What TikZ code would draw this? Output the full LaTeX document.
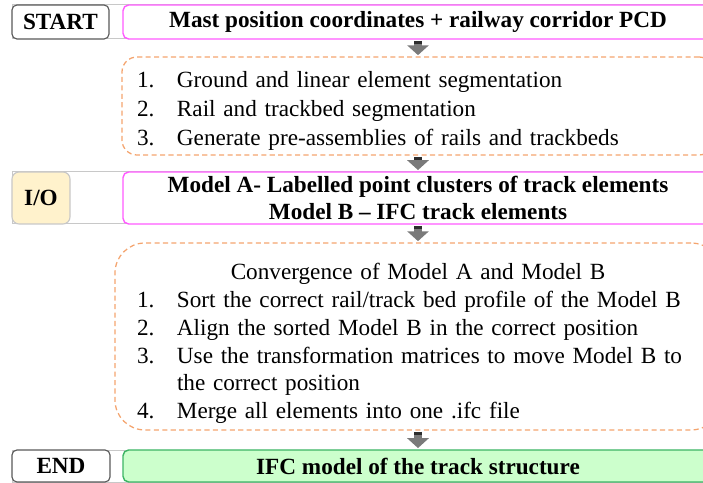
\documentclass[tikz,border=0pt]{standalone}
\usepackage{fontspec}
\setmainfont{Liberation Serif}
\usetikzlibrary{arrows.meta}
\definecolor{pinkline}{RGB}{255,90,255}
\definecolor{orangedash}{RGB}{244,164,110}
\definecolor{iofill}{RGB}{255,242,204}
\definecolor{endfill}{RGB}{204,255,204}
\definecolor{endline}{RGB}{60,180,100}
\definecolor{tagline}{RGB}{89,89,89}
\definecolor{rowline}{RGB}{200,200,200}
\definecolor{flowgray}{RGB}{122,122,122}
\definecolor{flowdark}{RGB}{45,45,45}
\newcommand{\stepitem}[2]{\makebox[1.0cm][l]{#1}#2}

\begin{document}
\begin{tikzpicture}[font=\fontsize{16.5}{20.3}\selectfont,
  rowstrip/.style={draw=rowline,line width=0.7pt,minimum width=17.525cm,inner sep=0pt},
  tagbox/.style={draw=tagline,line width=0.8pt,rounded corners=3.5pt,fill=white,inner sep=0pt,font=\fontsize{16.5}{20.3}\selectfont\bfseries},
  mainbox/.style={draw=pinkline,line width=1pt,rounded corners=4pt,fill=white,inner sep=0pt,minimum width=14.75cm,align=center,font=\fontsize{16.5}{19.2}\selectfont\bfseries},
  stepbox/.style={draw=orangedash,line width=0.9pt,dash pattern=on 3.6pt off 2.4pt,align=left,minimum width=14.8cm,text width=14.05cm,inner ysep=0pt},
  flow/.style={draw=flowgray,line width=5.5pt,-{Triangle[width=15pt,length=7pt]},shorten <=0.03cm,shorten >=0.03cm},
  flowcap/.style={draw=flowdark,line width=5.5pt}]
  \useasboundingbox (0,0) rectangle (17.575,12.075);
  \clip (0,0) rectangle (17.575,12.075);
  % input row
  \node[rowstrip,minimum height=0.85cm] (startrow) at (9.0625,11.525) {};
  \node[tagbox,minimum width=2.425cm,minimum height=0.85cm] (start) at (1.5125,11.525) {START};
  \node[mainbox,minimum height=0.85cm] (input) at (10.45,11.525) {Mast position coordinates + railway corridor PCD};
  % segmentation steps
  \node[stepbox,rounded corners=0.375cm,inner xsep=0.375cm,minimum height=2.45cm] (seg) at (10.45,9.425)
    {\rule{0pt}{18.5pt}\stepitem{1.}{Ground and linear element segmentation}\\
     \stepitem{2.}{Rail and trackbed segmentation}\\
     \stepitem{3.}{Generate pre-assemblies of rails and trackbeds}};
  % I/O row
  \node[rowstrip,minimum height=1.3cm] (iorow) at (9.0625,7.125) {};
  \node[tagbox,draw=rowline,fill=iofill,rounded corners=5pt,minimum width=1.45cm,minimum height=1.3cm] (io) at (1.025,7.125) {I/O};
  \node[mainbox,minimum height=1.3cm] (models) at (10.45,7.125) {Model A- Labelled point clusters of track elements\\Model B -- IFC track elements};
  % convergence steps
  \node[stepbox,rounded corners=0.75cm,minimum width=15.15cm,inner xsep=0.55cm,minimum height=4.675cm,
    font=\fontsize{16.5}{19.8}\selectfont] (conv) at (10.45,3.6625)
    {\rule{0pt}{21.5pt}\makebox[\linewidth]{Convergence of Model A and Model B}\\
     \stepitem{1.}{Sort the correct rail/track bed profile of the Model B}\\
     \stepitem{2.}{Align the sorted Model B in the correct position}\\
     \stepitem{3.}{Use the transformation matrices to move Model B to}\\
     \stepitem{}{the correct position}\\
     \stepitem{4.}{Merge all elements into one .ifc file}};
  % output row
  \node[rowstrip,minimum height=0.8cm] (endrow) at (9.0625,0.425) {};
  \node[tagbox,minimum width=2.45cm,minimum height=0.8cm] (end) at (1.525,0.425) {END};
  \node[mainbox,draw=endline,fill=endfill,minimum height=0.8cm] (ifc) at (10.45,0.425) {IFC model of the track structure};
  % block arrows
  \draw[flow] (input) -- (seg);
  \draw[flow] (seg) -- (models);
  \draw[flow] (models) -- (conv);
  \draw[flow] (conv) -- (ifc);
  \draw[flowcap] ([yshift=-0.03cm]input.south) -- ++(0,-0.08);
  \draw[flowcap] ([yshift=-0.03cm]seg.south) -- ++(0,-0.08);
  \draw[flowcap] ([yshift=-0.03cm]models.south) -- ++(0,-0.08);
  \draw[flowcap] ([yshift=-0.03cm]conv.south) -- ++(0,-0.08);
\end{tikzpicture}
\end{document}
